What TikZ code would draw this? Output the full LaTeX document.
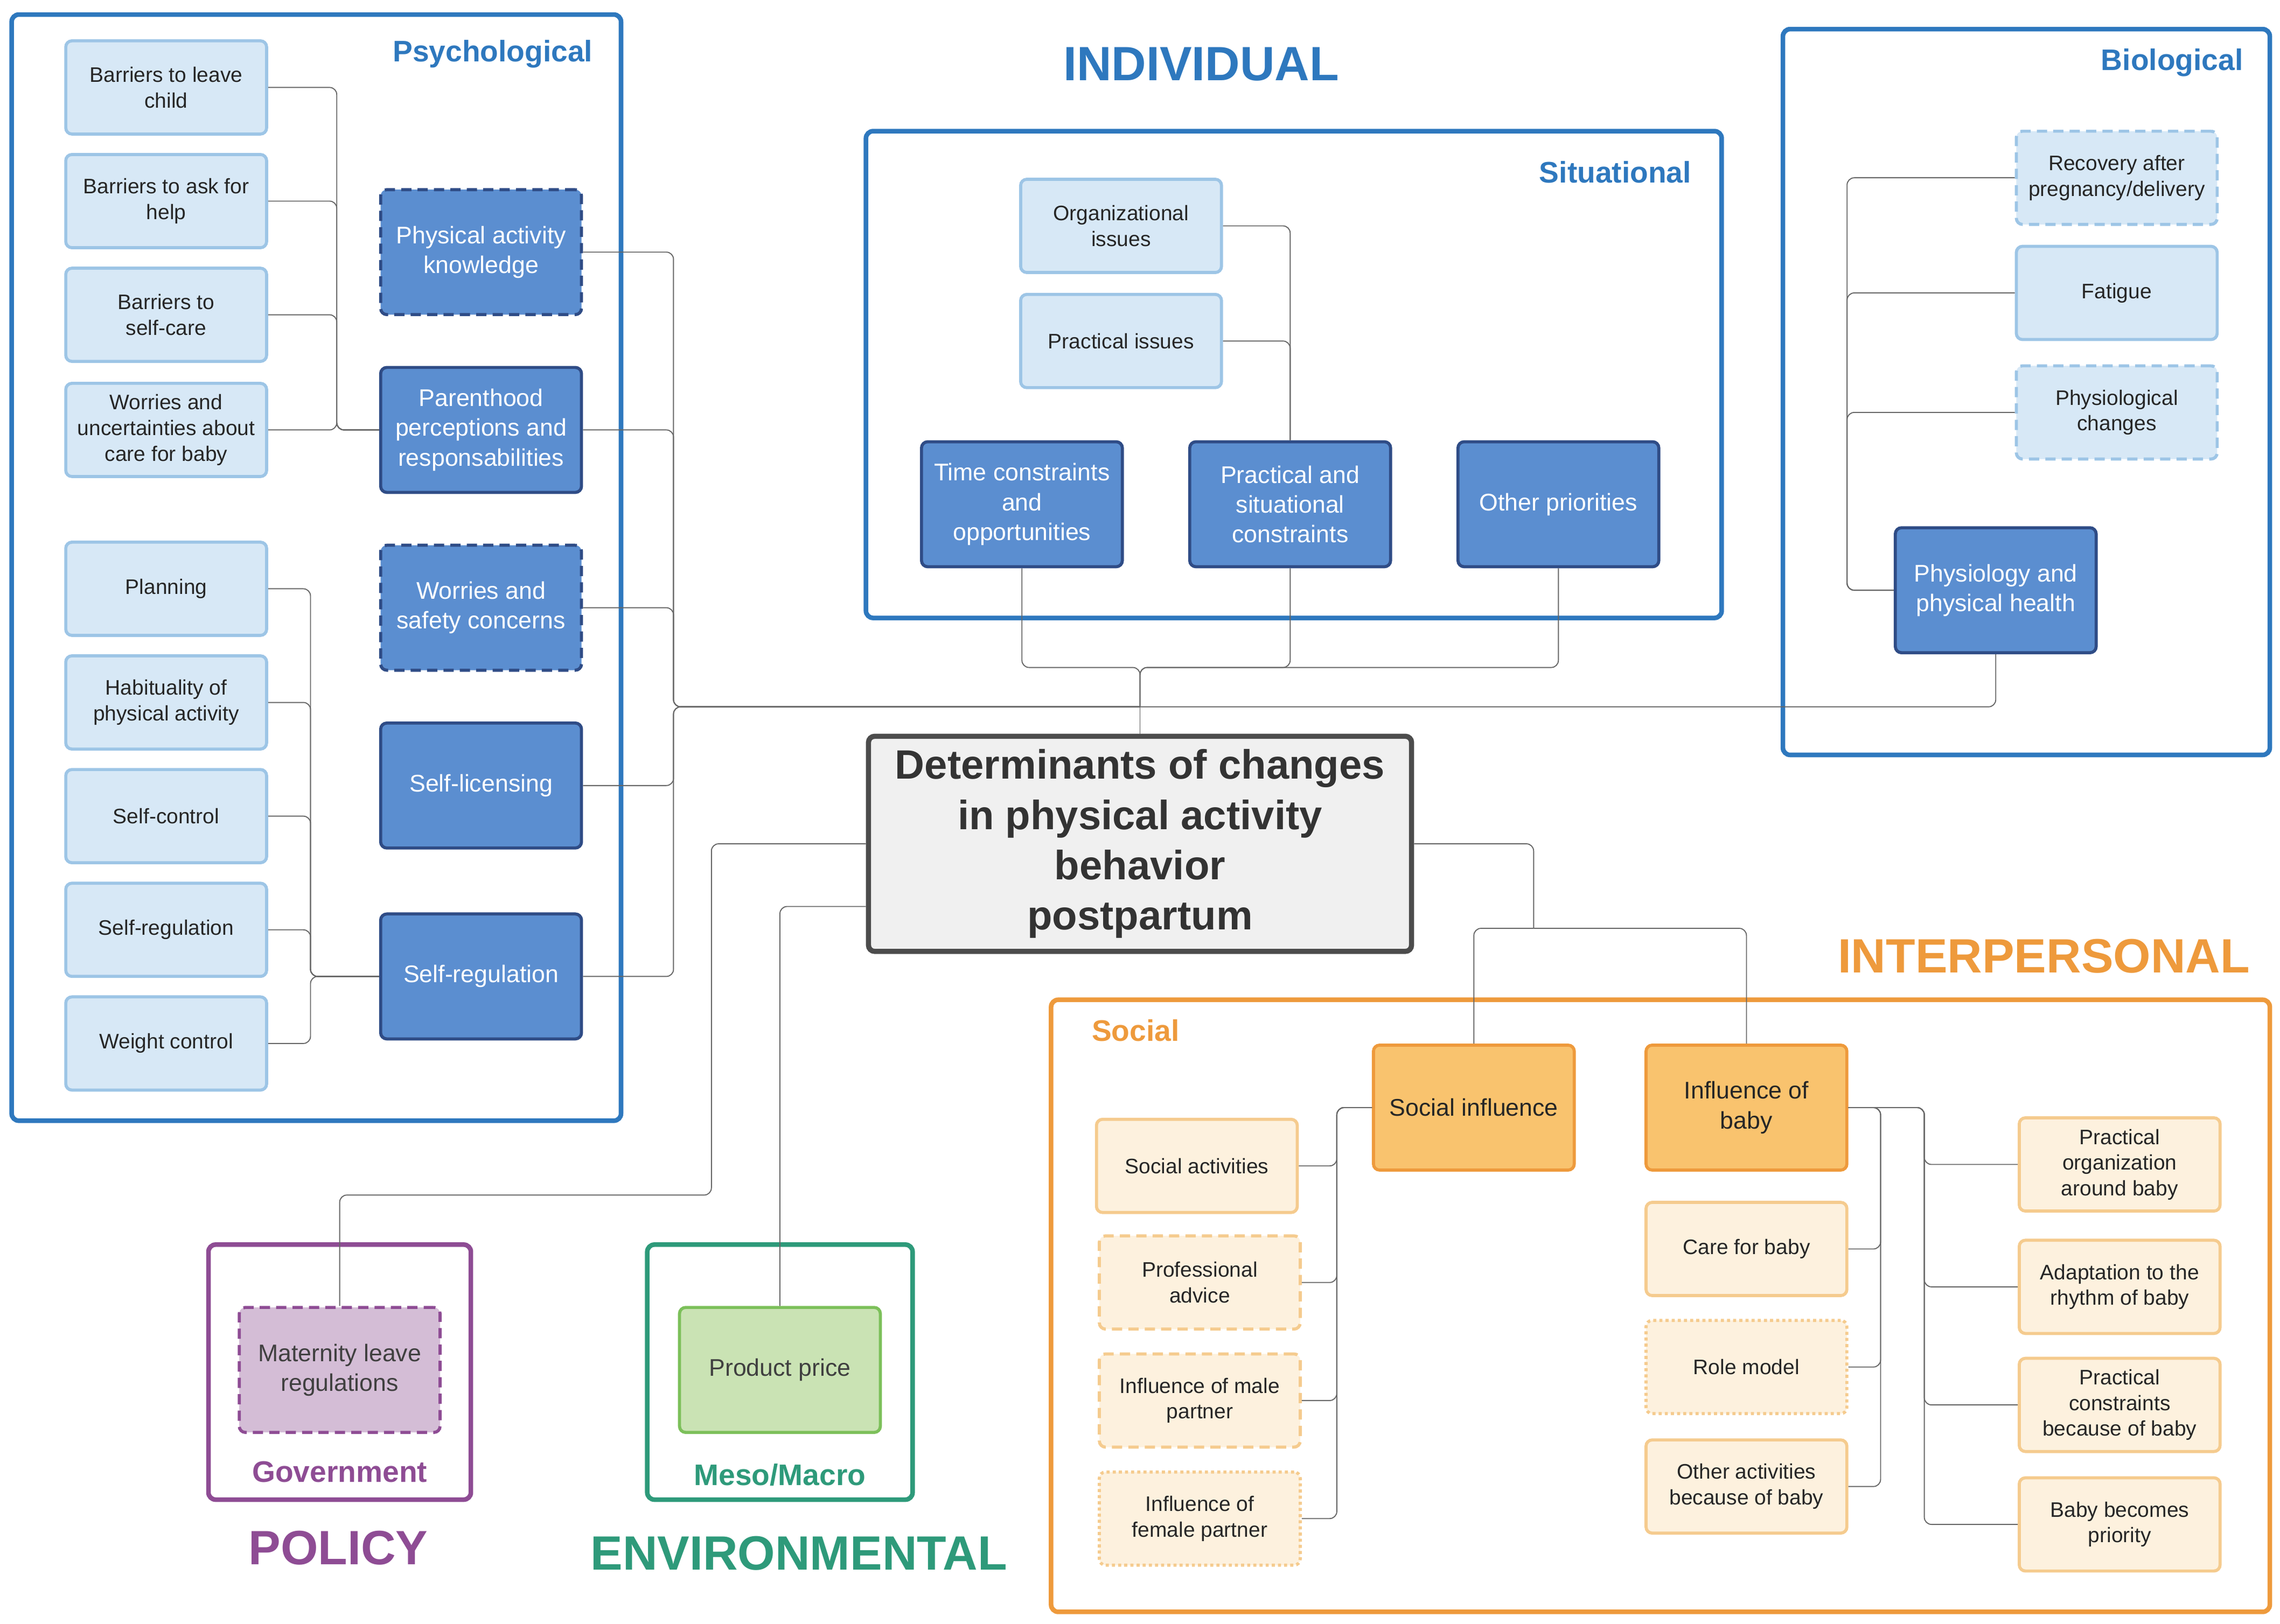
\documentclass[tikz,border=0pt]{standalone}
\usepackage{fontspec}
\setmainfont{Liberation Sans}
\usetikzlibrary{calc}
\definecolor{bfr}{HTML}{2E78BE}
\definecolor{dbf}{HTML}{5B8ED0}
\definecolor{dbb}{HTML}{2F4C86}
\definecolor{lbf}{HTML}{D7E8F6}
\definecolor{lbb}{HTML}{9DC5E6}
\definecolor{ofr}{HTML}{EE9A3C}
\definecolor{dof}{HTML}{F9C36E}
\definecolor{lof}{HTML}{FDF1DE}
\definecolor{lob}{HTML}{F5CB8E}
\definecolor{pfr}{HTML}{8E4C94}
\definecolor{pfl}{HTML}{D4BDD6}
\definecolor{gfr}{HTML}{2E9A7A}
\definecolor{gfl}{HTML}{CAE3B4}
\definecolor{gbb}{HTML}{7CC05A}
\begin{document}
\begin{tikzpicture}[x=0.05cm,y=-0.05cm,
 frame/.style={draw,line width=4.5pt,rounded corners=7pt},
 box/.style={rounded corners=6pt,line width=3pt,align=center,inner sep=0pt},
 lb/.style={box,fill=lbf,draw=lbb,minimum width=196pt,minimum height=91pt,font=\fontsize{20.5}{25}\selectfont,text=black!85},
 db/.style={box,fill=dbf,draw=dbb,minimum width=196pt,minimum height=122pt,font=\fontsize{23.5}{29}\selectfont,text=white},
 lo/.style={box,fill=lof,draw=lob,minimum width=196pt,minimum height=91pt,font=\fontsize{20.5}{25}\selectfont,text=black!85},
 do/.style={box,fill=dof,draw=ofr,minimum width=196pt,minimum height=122pt,font=\fontsize{23.5}{29}\selectfont,text=black!85},
 dsh/.style={dash pattern=on 10pt off 6pt},
 dot/.style={dash pattern=on 3pt off 3pt},
 con/.style={draw=black!60,line width=1pt,rounded corners=7pt},
 flab/.style={font=\fontsize{29}{33}\selectfont\bfseries},
 title/.style={font=\fontsize{47}{51}\selectfont\bfseries}]
\useasboundingbox (0,0) rectangle (1564,1114);
% frames
\draw[frame,bfr] (8,10) rectangle (426,769);
\node[flab,text=bfr] (psy) at (338,37) {Psychological};
\draw[frame,bfr] (594,90) rectangle (1181,424);
\node[flab,text=bfr] (sit) at (1108,118) {Situational};
\draw[frame,bfr] (1223,20) rectangle (1557,518);
\node[flab,text=bfr] (bio) at (1490,43) {Biological};
\node[title,text=bfr] (ind) at (824,44) {INDIVIDUAL};
\draw[frame,ofr] (721,686) rectangle (1557,1106);
\node[flab,text=ofr] (soc) at (779,707) {Social};
\node[title,text=ofr] (inter) at (1402,656) {INTERPERSONAL};
\draw[frame,pfr] (143,854) rectangle (323,1029);
\node[flab,text=pfr] (gov) at (233,1010) {Government};
\node[title,text=pfr] (pol) at (232,1062) {POLICY};
\draw[frame,gfr] (444,854) rectangle (626,1029);
\node[flab,text=gfr] (mm) at (535,1012) {Meso/Macro};
\node[title,text=gfr] (env) at (548,1066) {ENVIRONMENTAL};
% center
\node[box,draw=black!70,fill=black!6,line width=5pt,minimum width=530pt,minimum height=210pt,font=\fontsize{40}{49}\selectfont\bfseries,text=black!80] (c) at (782,579) {Determinants of changes\\in physical activity\\behavior\\postpartum};
% psychological
\node[lb] (l1) at (114,60) {Barriers to leave\\child};
\node[lb] (l2) at (114,138) {Barriers to ask for\\help};
\node[lb] (l3) at (114,216) {Barriers to\\self-care};
\node[lb] (l4) at (114,295) {Worries and\\uncertainties about\\care for baby};
\node[lb] (l5) at (114,404) {Planning};
\node[lb] (l6) at (114,482) {Habituality of\\physical activity};
\node[lb] (l7) at (114,560) {Self-control};
\node[lb] (l8) at (114,638) {Self-regulation};
\node[lb] (l9) at (114,716) {Weight control};
\node[db,dsh] (d1) at (330,173) {Physical activity\\knowledge};
\node[db] (d2) at (330,295) {Parenthood\\perceptions and\\responsabilities};
\node[db,dsh] (d3) at (330,417) {Worries and\\safety concerns};
\node[db] (d4) at (330,539) {Self-licensing};
\node[db] (d5) at (330,670) {Self-regulation};
\coordinate (ta) at (231,0);
\coordinate (tb) at (213,0);
\coordinate (tc) at (462,485);
\coordinate (tj) at (782,485);
\foreach \n in {l1,l2,l3,l4} \draw[con] (\n.east) -- (\n.east -| ta) |- (d2.west);
\foreach \n in {l5,l6,l7,l8,l9} \draw[con] (\n.east) -- (\n.east -| tb) |- (d5.west);
\foreach \n in {d1,d2,d3,d4,d5} \draw[con] (\n.east) -| (tc) -- (tj);
\draw[con] (tj) -- (c.north);
% situational
\node[lb] (s1) at (769,155) {Organizational\\issues};
\node[lb] (s2) at (769,234) {Practical issues};
\node[db] (s3) at (701,346) {Time constraints\\and\\opportunities};
\node[db] (s4) at (885,346) {Practical and\\situational\\constraints};
\node[db] (s5) at (1069,346) {Other priorities};
\coordinate (sj) at (782,458);
\draw[con] (s1.east) -| (s4.north);
\draw[con] (s2.east) -| (s4.north);
\foreach \n in {s3,s4,s5} \draw[con] (\n.south) |- (sj) -- (tj);
% biological
\node[lb,dsh] (b1) at (1452,122) {Recovery after\\pregnancy/delivery};
\node[lb] (b2) at (1452,201) {Fatigue};
\node[lb,dsh] (b3) at (1452,283) {Physiological\\changes};
\node[db] (b4) at (1369,405) {Physiology and\\physical health};
\coordinate (tbio) at (1267,0);
\foreach \n in {b1,b2,b3} \draw[con] (\n.west) -- (\n.west -| tbio) |- (b4.west);
\draw[con] (b4.south) |- (tj);
% social
\node[do] (o1) at (1011,760) {Social influence};
\node[do] (o2) at (1198,760) {Influence of\\baby};
\coordinate (oj) at (1052,637);
\draw[con] (c.east |- 0,579) -| (oj);
\draw[con] (oj) -| (o1.north);
\draw[con] (oj) -| (o2.north);
\node[lo] (q1) at (821,800) {Social activities};
\node[lo,dsh] (q2) at (823,880) {Professional\\advice};
\node[lo,dsh] (q3) at (823,961) {Influence of male\\partner};
\node[lo,dot] (q4) at (823,1042) {Influence of\\female partner};
\coordinate (tq) at (917,0);
\foreach \n in {q1,q2,q3,q4} \draw[con] (\n.east) -- (\n.east -| tq) |- (o1.west);
\node[lo] (r1) at (1198,857) {Care for baby};
\node[lo,dot] (r2) at (1198,938) {Role model};
\node[lo] (r3) at (1198,1020) {Other activities\\because of baby};
\coordinate (tr) at (1290,0);
\foreach \n in {r1,r2,r3} \draw[con] (\n.east) -- (\n.east -| tr) |- (o2.east);
\node[lo] (p1) at (1454,799) {Practical\\organization\\around baby};
\node[lo] (p2) at (1454,883) {Adaptation to the\\rhythm of baby};
\node[lo] (p3) at (1454,964) {Practical\\constraints\\because of baby};
\node[lo] (p4) at (1454,1046) {Baby becomes\\priority};
\coordinate (tp) at (1320,0);
\foreach \n in {p1,p2,p3,p4} \draw[con] (\n.west) -- (\n.west -| tp) |- (o2.east);
% policy & environment
\node[box,fill=pfl,draw=pfr,dsh,minimum width=196pt,minimum height=122pt,font=\fontsize{23.5}{29}\selectfont,text=black!75] (m) at (233,940) {Maternity leave\\regulations};
\node[box,fill=gfl,draw=gbb,minimum width=196pt,minimum height=122pt,font=\fontsize{23.5}{29}\selectfont,text=black!75] (pp) at (535,940) {Product price};
\coordinate (mj) at (488,820);
\draw[con] (c.west |- 0,579) -| (mj) -| (m.north);
\draw[con] (c.west |- 0,622) -| (pp.north);
\end{tikzpicture}
\end{document}
